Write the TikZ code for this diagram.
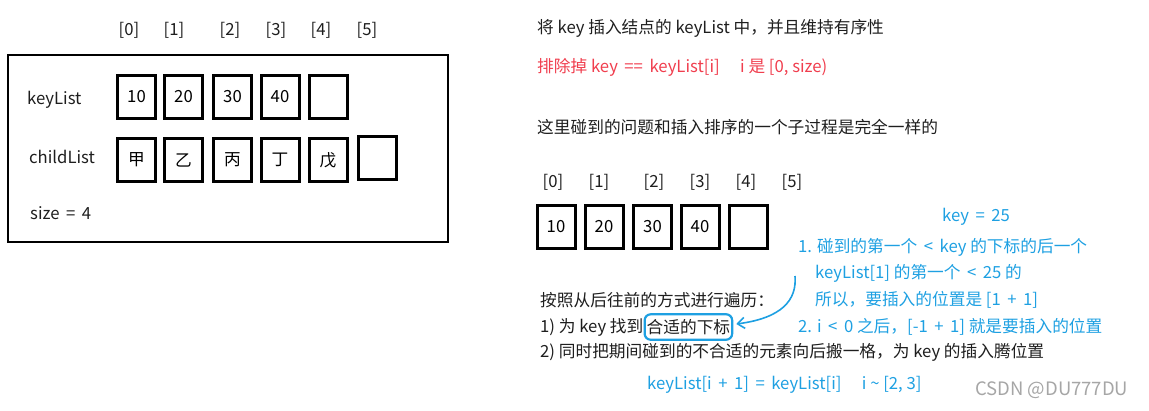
\documentclass[tikz,border=0pt]{standalone}
\usepackage{fontspec}
\setmainfont{Noto Sans CJK SC}
\usepackage{xcolor}
\usetikzlibrary{positioning,arrows.meta}

\definecolor{noteblue}{RGB}{30,160,226}
\definecolor{notered}{RGB}{240,62,78}
\definecolor{inkgray}{RGB}{30,30,30}

\tikzset{
  cell/.style={draw, line width=3pt, minimum width=38pt, minimum height=43pt, inner sep=0pt},
  txt/.style={anchor=west, inner sep=0pt, text=inkgray},
  note/.style={anchor=west, inner sep=0pt, text=noteblue},
}

\begin{document}
\begin{tikzpicture}[x=1pt, y=-1pt, font=\fontsize{16.7pt}{19pt}\selectfont]
\useasboundingbox (0,0) rectangle (1149,410);

% left: the node with its two lists
\node[draw, line width=2.7pt, minimum width=440pt, minimum height=187pt, inner sep=0pt] (panel) at (228,148.5) {};
\foreach \x/\l [count=\i from 0] in {129/[0], 174/[1], 230/[2], 276/[3], 321/[4], 367/[5]} {
  \node[text=inkgray] (li\i) at (\x,30) {\l};
}
\node[txt] (lkeys) at (27,100) {keyList};
\node[txt] (lkids) at (29,157) {childList};
\node[txt] (lsize) at (30,213) {size \,=\, 4};
\foreach \x/\l [count=\i from 0] in {136.5/10, 183.5/20, 232.5/30, 280/40, 328/} {
  \node[cell] (lk\i) at (\x,96.5) {\l};
}
\foreach \x/\l [count=\i from 0] in {136.5/甲, 183.5/乙, 232.5/丙, 280/丁, 328/戊} {
  \node[cell] (lc\i) at (\x,160) {\l};
}
\node[cell] (lc5) at (377.5,158) {};

% right: the notes
\node[txt] (goal) at (537,28) {将 key 插入结点的 keyList 中，并且维持有序性};
\node[txt, text=notered] (skip) at (537,67) {排除掉 key \,==\, keyList[i]\quad\ i 是 [0, size)};
\node[txt] (same) at (537,127) {这里碰到的问题和插入排序的一个子过程是完全一样的};

\foreach \x/\l [count=\i from 0] in {553/[0], 599/[1], 654/[2], 700/[3], 746/[4], 792/[5]} {
  \node[text=inkgray] (ri\i) at (\x,182) {\l};
}
\foreach \x/\l [count=\i from 0] in {556/10, 604/20, 652.5/30, 700/40, 748/} {
  \node[cell] (rk\i) at (\x,227) {\l};
}

\node[note] (key) at (942,217) {key \,=\, 25};
\node[note] (n1) at (798,247) {1. 碰到的第一个 \,<\, key 的下标的后一个};
\node[note] (n1a) at (815,273) {keyList[1] 的第一个 \,<\, 25 的};
\node[note] (n1b) at (815,300) {所以，要插入的位置是 [1 \,+\, 1]};
\node[note] (n2) at (798,327) {2. i \,<\, 0 之后，[-1 \,+\, 1] 就是要插入的位置};

\node[txt] (walk) at (540,300) {按照从后往前的方式进行遍历：};
\node[txt] (s1) at (540,327) {1) 为 key 找到};
\node[draw=noteblue, line width=2.2pt, rounded corners=6pt, inner xsep=2pt, inner ysep=5pt,
      text=inkgray, right=0pt of s1] (hit) {合适的下标};
\node[txt] (s2) at (540,352) {2) 同时把期间碰到的不合适的元素向后搬一格，为 key 的插入腾位置};
\node[note] (shift) at (647,385) {keyList[i \,+\, 1] \,=\, keyList[i]\quad\ i \textasciitilde{} [2, 3]};

\coordinate (tail) at (795,276);
\draw[noteblue, line width=1.6pt, -{Straight Barb[length=7pt, width=11pt]}]
  (tail) .. controls (797,300) and (782,318) .. ([xshift=3pt, yshift=3pt]hit.east);

\node[txt, text=gray!70, font=\fontsize{18.5pt}{21pt}\selectfont] (mark) at (975,390) {CSDN @DU777DU};
\end{tikzpicture}
\end{document}
